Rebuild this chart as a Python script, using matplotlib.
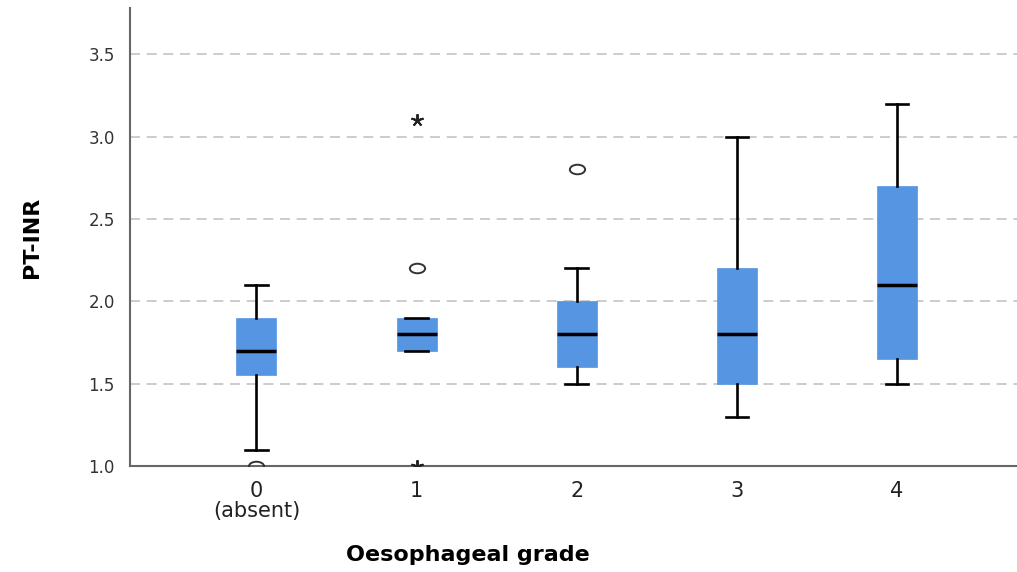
import numpy as np
import matplotlib
matplotlib.use("Agg")
import matplotlib.pyplot as plt
from matplotlib.path import Path
from matplotlib.transforms import Affine2D

# Data (PT-INR by oesophageal grade)
grades = [0, 1, 2, 3, 4]
grade_labels = ["0\n(absent)", "1", "2", "3", "4"]
whislo = [1.1, 1.7, 1.5, 1.3, 1.5]
q1 = [1.55, 1.7, 1.6, 1.5, 1.65]
med = [1.7, 1.8, 1.8, 1.8, 2.1]
q3 = [1.9, 1.9, 2.0, 2.2, 2.7]
whishi = [2.1, 1.9, 2.2, 3.0, 3.2]

# outliers (circles) and extremes (stars)
out_x = [0, 1, 2]
out_y = [1.0, 2.2, 2.8]
ext_x = [1, 1]
ext_y = [3.1, 1.0]

box_color = "#5595e2"

stats = []
for i in range(len(grades)):
    stats.append({"whislo": whislo[i], "q1": q1[i], "med": med[i],
                  "q3": q3[i], "whishi": whishi[i], "fliers": []})

fig = plt.figure(figsize=(10.17, 5.72), dpi=100)
ax = fig.add_axes([130 / 1017, 1 - 466 / 572, 887 / 1017, 458 / 572])

ax.bxp(stats, positions=grades, widths=0.25, capwidths=0.14,
       showfliers=False, patch_artist=True,
       boxprops=dict(facecolor=box_color, edgecolor=box_color, linewidth=0.5),
       medianprops=dict(color="black", linewidth=2.5),
       whiskerprops=dict(color="black", linewidth=1.9),
       capprops=dict(color="black", linewidth=1.9),
       zorder=3)

# SPSS-style open ellipse for outliers
ellipse = Path.unit_circle().transformed(Affine2D().scale(1.6, 1.0))
ax.plot(out_x, out_y, linestyle="none", marker=ellipse, markersize=11,
        markerfacecolor="none", markeredgecolor="#333333",
        markeredgewidth=1.4, zorder=4)
ax.plot(ext_x, ext_y, linestyle="none", marker=(5, 2, 0), markersize=9,
        color="#222222", markeredgewidth=1.4, zorder=4)

ax.set_xlim(-0.79, 4.75)
ax.set_ylim(1.0, 3.78)
ax.set_yticks([1.0, 1.5, 2.0, 2.5, 3.0, 3.5])
ax.set_yticklabels(["1.0", "1.5", "2.0", "2.5", "3.0", "3.5"],
                   fontsize=12, color="#333333")
ax.set_xticks(grades)
ax.set_xticklabels(grade_labels, fontsize=15, color="#222222",
                   linespacing=1.0)
ax.tick_params(axis="both", length=0)
ax.tick_params(axis="y", pad=11)
ax.tick_params(axis="x", pad=11)

for y in [1.5, 2.0, 2.5, 3.0, 3.5]:
    ax.axhline(y, color="#c4c4c4", linewidth=1.2, linestyle=(0, (6, 4)),
               zorder=1)

for side in ["top", "right"]:
    ax.spines[side].set_visible(False)
for side in ["left", "bottom"]:
    ax.spines[side].set_color("#666666")
    ax.spines[side].set_linewidth(1.5)

ax.set_xlabel("Oesophageal grade", fontsize=16, fontweight="bold")
ax.xaxis.set_label_coords((468 - 130) / 887, -(545 - 466) / 458)
ax.set_ylabel("PT-INR", fontsize=16, fontweight="bold")
ax.yaxis.set_label_coords(-(130 - 42) / 887, 0.5)

fig.savefig("out.png", dpi=100)
